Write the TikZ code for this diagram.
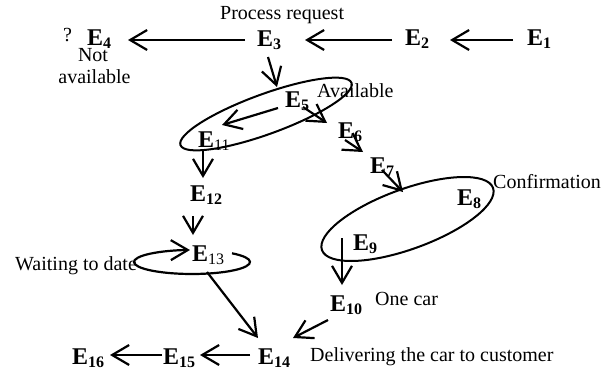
\documentclass[tikz,border=0pt]{standalone}
\usepackage{fontspec}
\setmainfont{Liberation Serif}
\usetikzlibrary{arrows.meta}
\newcommand\evt[1]{\textbf{E}\raisebox{-3pt}{\fontsize{16}{16}\selectfont\bfseries #1}}
\newcommand\evtr[1]{\textbf{E}\raisebox{-3pt}{\fontsize{16}{16}\selectfont #1}}
\begin{document}
\begin{tikzpicture}[x=1pt,y=-1pt,
  ev/.style={inner sep=0pt, anchor=base west, font=\fontsize{24}{28}\selectfont},
  lbl/.style={inner sep=0pt, anchor=base west, font=\fontsize{20}{24}\selectfont},
  arr/.style={line width=2.2pt, -{Straight Barb[length=17pt,width=20pt]}},
  ell/.style={line width=2pt}]
\useasboundingbox (0,0) rectangle (616,373);
\fill[white] (0,0) rectangle (616,373);

% events
\node[ev] (E1) at (527,45) {\evt{1}};
\node[ev] (E2) at (405,45) {\evt{2}};
\node[ev] (E3) at (257,46) {\evt{3}};
\node[ev] (E4) at (87,45) {\evt{4}};
\node[ev] (E5) at (285,107) {\evt{5}};
\node[ev] (E6) at (338,138) {\evt{6}};
\node[ev] (E7) at (370,173) {\evt{7}};
\node[ev] (E8) at (457,205) {\evt{8}};
\node[ev] (E9) at (353,250) {\evt{9}};
\node[ev] (E10) at (330,311) {\evt{10}};
\node[ev] (E11) at (198,147) {\evtr{11}};
\node[ev] (E12) at (190,201) {\evt{12}};
\node[ev] (E13) at (192,261) {\evtr{13}};
\node[ev] (E14) at (258,364) {\evt{14}};
\node[ev] (E15) at (163,364) {\evt{15}};
\node[ev] (E16) at (72,364) {\evt{16}};

% labels
\node[lbl] (q) at (63,41) {?};
\node[lbl] (preq) at (220,19) {Process request};
\node[lbl, anchor=base] (na1) at (93,61) {Not};
\node[lbl, anchor=base] (na2) at (94.5,83) {available};
\node[lbl] (avail) at (317,97) {Available};
\node[lbl] (conf) at (493,188) {Confirmation};
\node[lbl] (onecar) at (375,305) {One car};
\node[lbl] (deliv) at (310,361) {Delivering the car to customer};
\node[lbl] (wait) at (15,270) {Waiting to date};

% groups
\draw[ell, rotate around={20:(266,114)}] (266,114) ellipse [x radius=91, y radius=20];
\draw[ell, rotate around={20:(407.5,219)}] (407.5,219) ellipse [x radius=91, y radius=30];

% connectors
\draw[arr] ([shift={(-14,-5)}]E1.base west) -- ([shift={(45,-5)}]E2.base west);
\draw[arr] ([shift={(-13,-5)}]E2.base west) -- ([shift={(48,-6)}]E3.base west);
\draw[arr] ([shift={(-12,-6)}]E3.base west) -- ([shift={(41,-5)}]E4.base west);
\draw[arr] ([shift={(11,11)}]E3.base west) -- ([shift={(-8,-20)}]E5.base west);
\draw[arr] ([shift={(-7,1)}]E5.base west) -- ([shift={(24,-22)}]E11.base west);
\draw[arr] ([shift={(18,0)}]E5.base west) -- ([shift={(-11,-15)}]E6.base west);
\draw[arr] ([shift={(7,2)}]E6.base west) -- ([shift={(-7,-21)}]E7.base west);
\draw[arr] ([shift={(12,-3)}]E7.base west) -- ([shift={(-54,-13)}]E8.base west);
\draw[arr] ([shift={(5,3)}]E11.base west) -- ([shift={(13,-23)}]E12.base west);
\draw[arr] ([shift={(3,15)}]E12.base west) -- ([shift={(1,-26)}]E13.base west);
\draw[arr] ([shift={(15,11)}]E13.base west) -- ([shift={(0,-26)}]E14.base west);
\draw[arr] ([shift={(-11,-12)}]E9.base west) -- ([shift={(12,-26)}]E10.base west);
\draw[arr] ([shift={(-2,9)}]E10.base west) -- ([shift={(35,-26)}]E14.base west);
\draw[arr] ([shift={(-8,-9)}]E14.base west) -- ([shift={(37,-9)}]E15.base west);
\draw[arr] ([shift={(-1,-9)}]E15.base west) -- ([shift={(38,-9)}]E16.base west);
% waiting loop
\draw[arr] ([shift={(40,-7.7)}]E13.base west) arc [start angle=-46.4, end angle=268, x radius=58, y radius=12];
\end{tikzpicture}
\end{document}
